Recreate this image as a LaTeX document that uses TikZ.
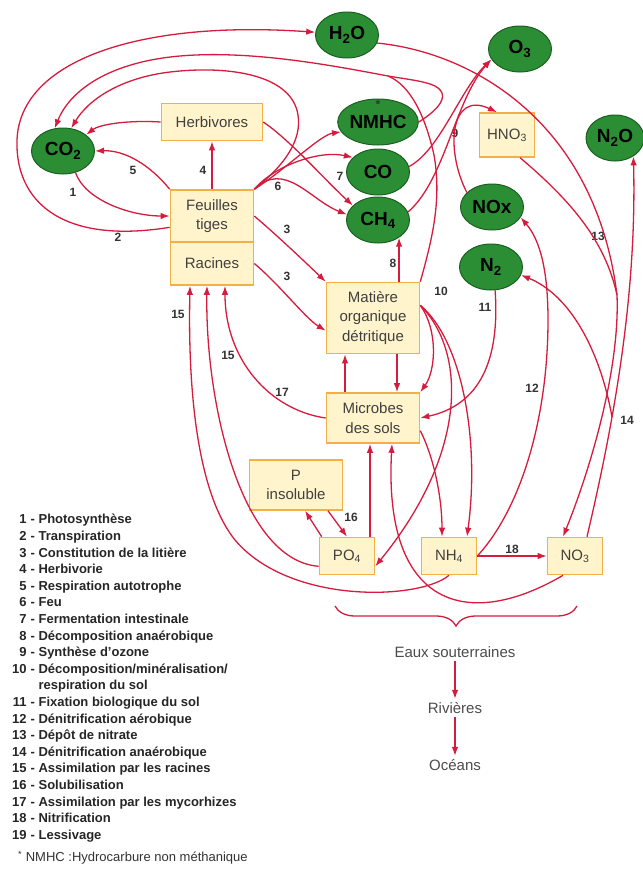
\documentclass[tikz,border=0pt]{standalone}
\usepackage{fontspec}
\setmainfont{Liberation Sans}
\usetikzlibrary{shapes.geometric, arrows.meta, calc, decorations.pathreplacing}
\definecolor{cycred}{RGB}{214,28,62}
\definecolor{boxfill}{RGB}{255,244,204}
\definecolor{boxline}{RGB}{244,176,70}
\definecolor{gasfill}{RGB}{44,142,52}
\definecolor{gasline}{RGB}{26,96,34}
\tikzstyle{box} = [rectangle, draw=boxline, fill=boxfill, line width=1.6pt, text=black!75, align=center, inner sep=0pt, font=\fontsize{15}{19.5}\selectfont]
\tikzstyle{gas} = [ellipse, draw=gasline, fill=gasfill, line width=1pt, minimum width=63pt, minimum height=46pt, inner sep=0pt, text=black, font=\fontsize{19}{20}\selectfont\bfseries]
\tikzstyle{num} = [inner sep=0pt, text=black!80, font=\fontsize{12}{12}\selectfont\bfseries]
\tikzstyle{water} = [text=black!70, font=\fontsize{15}{17}\selectfont]
\tikzstyle{cyclearrow} = [draw=cycred, line width=1.3pt, -{Latex[length=9pt,width=6.5pt]}]
\tikzstyle{cycleline} = [draw=cycred, line width=1.3pt]

\begin{document}
\begin{tikzpicture}[x=1pt, y=1pt]
    \fill[white] (0,0) rectangle (643,-871);
    \useasboundingbox (0,0) rectangle (643,-871);

    % Nodes
    \node (h2o) [gas] at (347,-35) {H\textsubscript{2}O};
    \node (o3) [gas] at (520,-49) {O\textsubscript{3}};
    \node (nmhc) [gas] at (378,-122) {NMHC};
    \node (star) [num] at (378,-104) {*};
    \node (co) [gas] at (378,-172) {CO};
    \node (ch4) [gas] at (378,-220) {CH\textsubscript{4}};
    \node (n2o) [gas, minimum width=58pt] at (615,-138) {N\textsubscript{2}O};
    \node (nox) [gas] at (492,-207) {NOx};
    \node (n2) [gas] at (491,-267) {N\textsubscript{2}};
    \node (co2) [gas] at (63,-151) {CO\textsubscript{2}};

    \node (herb) [box, minimum width=101pt, minimum height=37pt] at (212,-122) {Herbivores};
    \node (feuil) [box, minimum width=83pt, minimum height=52pt] at (212,-216) {Feuilles\\tiges};
    \node (rac) [box, minimum width=83pt, minimum height=43pt] at (212,-263.5) {Racines};
    \node (mat) [box, minimum width=93pt, minimum height=71pt] at (373,-318) {Matière\\organique\\détritique};
    \node (mic) [box, minimum width=93pt, minimum height=50pt] at (373,-418) {Microbes\\des sols};
    \node (pins) [box, minimum width=93pt, minimum height=50pt] at (296,-485) {P\\insoluble};
    \node (po4) [box, minimum width=55pt, minimum height=37pt] at (347,-556) {PO\textsubscript{4}};
    \node (nh4) [box, minimum width=55pt, minimum height=37pt] at (449,-556) {NH\textsubscript{4}};
    \node (no3) [box, minimum width=55pt, minimum height=37pt] at (575,-556) {NO\textsubscript{3}};
    \node (hno3) [box, minimum width=55pt, minimum height=44pt] at (507,-135) {HNO\textsubscript{3}};

    \node (eaux) [water] at (455,-652) {Eaux souterraines};
    \node (riv) [water] at (455,-708) {Rivières};
    \node (oce) [water] at (455,-765) {Océans};

    \coordinate (m10) at (388,-76);
    \coordinate (dep) at (617,-295);
    \coordinate (br14) at (612,-417);

    % Numbers
    \node (l1) [num] at (73,-192) {1};
    \node (l2) [num] at (118,-237) {2};
    \node (l3a) [num] at (287,-229) {3};
    \node (l3b) [num] at (287,-276) {3};
    \node (l4) [num] at (203,-170) {4};
    \node (l5) [num] at (133,-170) {5};
    \node (l6) [num] at (278,-186) {6};
    \node (l7) [num] at (340,-176) {7};
    \node (l8) [num] at (393,-263) {8};
    \node (l9) [num] at (455,-133) {9};
    \node (l10) [num] at (441,-291) {10};
    \node (l11) [num] at (485,-307) {11};
    \node (l12) [num] at (532,-388) {12};
    \node (l13) [num] at (598,-236) {13};
    \node (l14) [num] at (627,-420) {14};
    \node (l15a) [num] at (178,-314) {15};
    \node (l15b) [num] at (228,-355) {15};
    \node (l16) [num] at (351,-517) {16};
    \node (l17) [num] at (282,-392) {17};
    \node (l18) [num] at (512,-549) {18};

    % Plants and atmosphere
    \draw [cyclearrow] (co2.-60) .. controls (85,-200) and (130,-216) .. (feuil.west);
    \draw [cyclearrow] (feuil.195) .. controls (60,-245) and (15,-200) .. (17,-140) .. controls (20,-60) and (140,-20) .. (h2o.175);
    \draw [cyclearrow] (feuil.north west) .. controls (150,-165) and (125,-150) .. (co2.east);
    \draw [cyclearrow] (feuil.north) -- (herb.south);
    \draw [cyclearrow] (herb.west) .. controls (130,-120) and (100,-124) .. (co2.35);
    \draw [cyclearrow] (feuil.north east) .. controls (285,-165) and (302,-140) .. (298,-115) .. controls (292,-75) and (230,-65) .. (170,-72) .. controls (120,-78) and (88,-100) .. (co2.70);
    \draw [cyclearrow] (feuil.north east) .. controls (285,-170) and (320,-135) .. (nmhc.195);
    \draw [cyclearrow] (feuil.north east) .. controls (275,-165) and (320,-150) .. (co.150);
    \draw [cyclearrow] (feuil.north east) .. controls (285,-160) and (310,-200) .. (ch4.170);
    \draw [cyclearrow] (herb.east) .. controls (290,-140) and (325,-180) .. (ch4.150);
    \draw [cyclearrow] (nmhc.east) .. controls (430,-115) and (455,-97) .. (435,-86) .. controls (425,-81) and (405,-79) .. (m10) .. controls (330,-65) and (250,-50) .. (180,-56) .. controls (110,-62) and (70,-90) .. (co2.110);
    \draw [cycleline] (mat.north east) .. controls (432,-240) and (442,-200) .. (434,-155) .. controls (425,-115) and (410,-85) .. (m10);

    % Litter and soil
    \draw [cyclearrow] (feuil.east) .. controls (280,-238) and (305,-262) .. (mat.north west);
    \draw [cyclearrow] (rac.east) .. controls (280,-285) and (305,-318) .. (mat.195);
    \draw [cyclearrow] (mat.north -| ch4.-40) -- (ch4.-40);
    \draw [cyclearrow] ($(mat.south)+(24,0)$) -- ($(mic.north)+(24,0)$);
    \draw [cyclearrow] ($(mic.north)+(-28,0)$) -- ($(mat.south)+(-28,0)$);
    \draw [cyclearrow] (mat.15) .. controls (438,-330) and (436,-370) .. (mic.north east);
    \draw [cyclearrow] (mat.15) .. controls (462,-340) and (480,-440) .. ($(nh4.north)+(18,0)$);
    \draw [cyclearrow] (mat.15) .. controls (465,-350) and (470,-450) .. (po4.-20);
    \draw [cyclearrow] (mic.-15) .. controls (435,-460) and (442,-500) .. ($(nh4.north)+(-7,0)$);
    \draw [cyclearrow] (n2.-80) .. controls (500,-360) and (480,-405) .. (mic.east);

    % Nitrogen and ozone
    \draw [cyclearrow] (co.10) .. controls (440,-150) and (460,-90) .. (o3.200);
    \draw [cyclearrow] (ch4.15) .. controls (445,-180) and (455,-100) .. (o3.200);
    \draw [cyclearrow] (nox.150) .. controls (445,-150) and (450,-90) .. ($(hno3.north)+(-10,0)$);
    \draw [cycleline] (h2o.-15) .. controls (470,-52) and (595,-120) .. (dep);
    \draw [cycleline] (hno3.-60) .. controls (570,-200) and (605,-240) .. (dep);
    \draw [cyclearrow] (dep) .. controls (620,-370) and (590,-470) .. ($(no3.north)+(-12,0)$);
    \draw [cyclearrow] ($(no3.north)+(12,0)$) .. controls (612,-430) and (637,-300) .. (n2o.-45);
    \draw [cyclearrow] (br14) .. controls (600,-350) and (570,-295) .. (n2.-15);
    \draw [cyclearrow] (nh4.east) .. controls (520,-510) and (548,-420) .. (548,-320) .. controls (548,-270) and (540,-240) .. (nox.-20);
    \draw [cyclearrow] (nh4.east) -- (no3.west);

    % Phosphorus and uptake
    \draw [cyclearrow] ($(po4.north west)+(3,0)$) -- ($(pins.south)+(9,0)$);
    \draw [cyclearrow] ($(pins.south)+(32,0)$) -- (po4.north);
    \draw [cyclearrow] ($(po4.north)+(23,0)$) -- ($(mic.south)+(-3,0)$);
    \draw [cyclearrow] ($(no3.south)+(-12,0)$) .. controls (470,-630) and (383,-610) .. ($(mic.south)+(19,0)$);
    \draw [cyclearrow] (nh4.south) .. controls (420,-600) and (290,-605) .. (235,-540) .. controls (195,-490) and (188,-380) .. ($(rac.south)+(-22,0)$);
    \draw [cyclearrow] (po4.200) .. controls (240,-560) and (205,-400) .. ($(rac.south)+(-5,0)$);
    \draw [cyclearrow] (mic.west) .. controls (270,-410) and (225,-360) .. ($(rac.south)+(13,0)$);

    % Leaching
    \draw [cycleline, decorate, decoration={brace, mirror, amplitude=20pt}] (335,-606) -- (577,-606);
    \draw [cyclearrow] (eaux) -- (riv);
    \draw [cyclearrow] (riv) -- (oce);

    % Legend
    \node (legend) [anchor=north west, inner sep=0pt, text=black!85, font=\fontsize{13}{16.6}\selectfont\bfseries] at (12,-512) {%
        \begin{tabular}{@{}r@{\hspace{4pt}}l@{}}
        1 & - Photosynthèse\\
        2 & - Transpiration\\
        3 & - Constitution de la litière\\
        4 & - Herbivorie\\
        5 & - Respiration autotrophe\\
        6 & - Feu\\
        7 & - Fermentation intestinale\\
        8 & - Décomposition anaérobique\\
        9 & - Synthèse d'ozone\\
        10 & - Décomposition/minéralisation/\\
           & \phantom{- }respiration du sol\\
        11 & - Fixation biologique du sol\\
        12 & - Dénitrification aérobique\\
        13 & - Dépôt de nitrate\\
        14 & - Dénitrification anaérobique\\
        15 & - Assimilation par les racines\\
        16 & - Solubilisation\\
        17 & - Assimilation par les mycorhizes\\
        18 & - Nitrification\\
        19 & - Lessivage
        \end{tabular}};
    \node (note) [anchor=west, inner sep=0pt, text=black!80, font=\fontsize{13}{15}\selectfont] at (18,-858) {\textsuperscript{*} NMHC :Hydrocarbure non méthanique};
\end{tikzpicture}
\end{document}
